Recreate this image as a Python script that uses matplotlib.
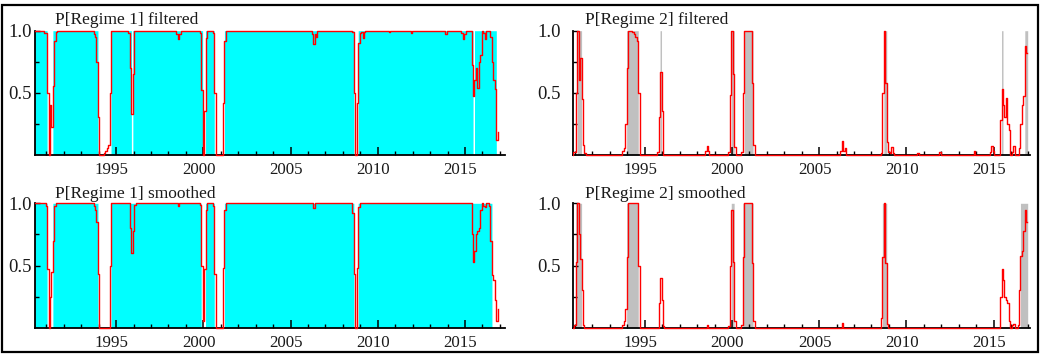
import numpy as np
import matplotlib
matplotlib.use("Agg")
import matplotlib.pyplot as plt
from matplotlib.transforms import Bbox, TransformedBbox, ScaledTranslation
from matplotlib.patches import Rectangle

plt.rcParams['font.family'] = ['Liberation Serif', 'DejaVu Serif']

# Monthly sample, 1990M5 - 2016M12
first_year, first_month = 1990, 5
n_obs = 320

# P[Regime 2]: start month -> consecutive monthly probabilities (zero elsewhere)
filtered_r2 = {
    "1990-12": [0.02, 0.02, 0.00],
    "1991-02": [0.50, 1.00, 0.60, 0.78, 0.45, 0.08, 0.01],
    "1993-10": [0.03, 0.05, 0.25, 0.70, 1.00, 1.00, 1.00, 0.99, 0.97, 0.95, 0.92, 0.50, 0.00],
    "1995-10": [0.02, 0.30, 0.67, 0.35, 0.00],
    "1998-07": [0.03, 0.07, 0.03],
    "1999-11": [0.02, 0.48, 1.00, 0.65, 0.06],
    "2000-08": [0.02, 0.50, 1.00, 1.00, 1.00, 1.00, 1.00, 0.58, 0.08],
    "2006-04": [0.03, 0.11, 0.03, 0.05],
    "2008-08": [0.01, 0.50, 1.00, 0.58, 0.10, 0.02, 0.01, 0.06, 0.01],
    "2010-09": [0.01],
    "2011-12": [0.02],
    "2013-12": [0.03],
    "2014-11": [0.02, 0.07, 0.03],
    "2015-06": [0.28, 0.53, 0.40, 0.30, 0.46, 0.25, 0.20, 0.00, 0.02, 0.07,
                0.00, 0.00, 0.00, 0.05, 0.25, 0.40, 0.47, 0.88, 0.82],
}

smoothed_r2 = {
    "1991-01": [0.02, 0.53, 1.00, 0.75, 0.55, 0.30, 0.02],
    "1993-10": [0.02, 0.05, 0.15, 0.57, 1.00, 1.00, 1.00, 1.00, 1.00, 1.00, 1.00, 0.50, 0.00],
    "1995-11": [0.20, 0.40, 0.22, 0.01],
    "1998-08": [0.02],
    "1999-11": [0.01, 0.50, 0.95, 0.53, 0.05],
    "2000-08": [0.02, 0.57, 1.00, 1.00, 1.00, 1.00, 1.00, 0.52, 0.05],
    "2006-05": [0.04],
    "2008-08": [0.08, 0.57, 1.00, 0.52, 0.03],
    "2015-06": [0.25, 0.47, 0.38, 0.25, 0.22, 0.20, 0.05, 0.00, 0.02, 0.03,
                0.00, 0.00, 0.02, 0.30, 0.58, 0.62, 0.78, 0.95, 0.85],
}

year_ticks = list(range(1991, 2018))
labelled_years = [1995, 2000, 2005, 2010, 2015]
y_labelled = [0.5, 1.0]
y_minor = [0.25, 0.75]


def expand(episodes):
    p = np.zeros(n_obs)
    for key, vals in episodes.items():
        y, m = map(int, key.split("-"))
        i = (y - first_year) * 12 + (m - first_month)
        p[i:i + len(vals)] = vals
    return p


t = first_year + (first_month - 1) / 12 + np.arange(n_obs) / 12
p2_filt = expand(filtered_r2)
p2_smth = expand(smoothed_r2)
p1_filt = 1.0 - p2_filt
p1_smth = 1.0 - p2_smth

W, H = 1045, 356
fig = plt.figure(figsize=(W / 100, H / 100), dpi=100)
fig.patch.set_facecolor("white")


def px_axes(x0, x1, y_top, y_bot):
    return fig.add_axes([x0 / W, 1 - y_bot / H, (x1 - x0) / W, (y_bot - y_top) / H])


def panel(ax, prob, shade, xlim, ylab_pad):
    edges = np.append(t - 1 / 24, t[-1] + 1 / 24)
    regime = np.append((prob > 0.5).astype(float), 0.0)
    ax.fill_between(edges, 0, regime, step="post", color=shade, lw=0, zorder=1)
    line, = ax.plot(t, prob, color="#ff0000", lw=1.0, zorder=3, drawstyle="steps-mid")
    line.set_clip_box(TransformedBbox(Bbox([[xlim[0], -0.2], [xlim[1], 1.2]]), ax.transData))
    ax.set_xlim(*xlim)
    ax.set_ylim(0, 1)
    ax.set_axisbelow(False)
    ax.patch.set_alpha(0)
    for s in ("top", "right"):
        ax.spines[s].set_visible(False)
    ax.spines["left"].set_bounds(0, 1)
    for s in ("left", "bottom"):
        ax.spines[s].set_linewidth(1.3)
        ax.spines[s].set_color("black")
        ax.spines[s].set_zorder(2.5)

    ax.set_xticks(labelled_years)
    ax.set_xticklabels([str(y) for y in labelled_years])
    ax.set_xticks([y for y in year_ticks if y not in labelled_years], minor=True)
    ax.set_yticks(y_labelled)
    ax.set_yticklabels(["0.5", "1.0"])
    ax.set_yticks(y_minor, minor=True)
    ax.tick_params(axis="x", which="major", direction="in", length=5.5, width=1.1,
                   pad=5.5, labelsize=12.2, color="black", labelcolor="#1a1a1a")
    ax.tick_params(axis="x", which="minor", direction="in", length=3.2, width=1.0, color="black")
    ax.tick_params(axis="y", which="major", direction="in", length=3.5, width=1.0,
                   pad=ylab_pad, labelsize=13.5, color="black", labelcolor="#1a1a1a")
    ax.tick_params(axis="y", which="minor", direction="in", length=3.0, width=1.0, color="black")
    shift = ScaledTranslation(-4.5 / 100, 0, fig.dpi_scale_trans)
    for lab in ax.get_xticklabels():
        lab.set_transform(lab.get_transform() + shift)


left_xlim = (1990.35, 2017.29)
right_xlim = (1990.90, 2017.09)

ax1 = px_axes(35, 505, 30.7, 154.5)
panel(ax1, p1_filt, "#00ffff", left_xlim, 2.5)
ax2 = px_axes(573.3, 1030, 30.7, 154.5)
panel(ax2, p2_filt, "#c0c0c0", right_xlim, 9.0)
ax3 = px_axes(35, 505, 203.3, 327.7)
panel(ax3, p1_smth, "#00ffff", left_xlim, 2.5)
ax4 = px_axes(573.3, 1030, 203.3, 327.7)
panel(ax4, p2_smth, "#c0c0c0", right_xlim, 9.0)

titles = [
    (55, 24.3, "P[Regime 1] filtered"),
    (585, 24.3, "P[Regime 2] filtered"),
    (55, 197.5, "P[Regime 1] smoothed"),
    (585, 197.5, "P[Regime 2] smoothed"),
]
for x, y, s in titles:
    fig.text(x / W, 1 - y / H, s, ha="left", va="baseline", fontsize=12.5, color="#1a1a1a")

fig.add_artist(Rectangle((1.5 / W, 1 - 352 / H), (1038 - 1.5) / W, (352 - 5) / H,
                         transform=fig.transFigure, fill=False, lw=1.6, ec="black"))

fig.savefig("out.png", dpi=100)
